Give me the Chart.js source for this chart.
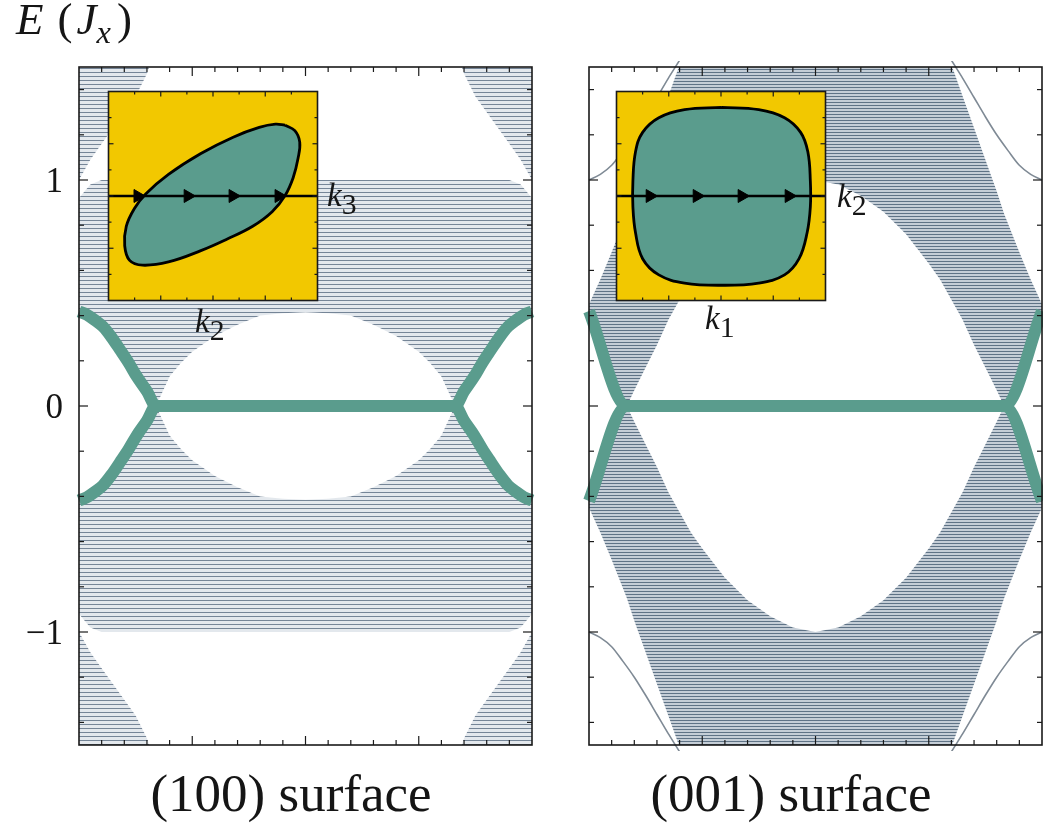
<!DOCTYPE html>
<html>
<head>
<meta charset="utf-8">
<script src="https://cdn.jsdelivr.net/npm/chart.js@4.4.0/dist/chart.umd.min.js"></script>
<style>
  body { margin:0; background:#fff; width:1043px; height:823px; position:relative; overflow:hidden; }
  canvas { position:absolute; }
  .lbl { position:absolute; white-space:nowrap; color:#151515; font-family:"Liberation Serif", "Times New Roman", "DejaVu Serif", serif; }
  .sub { font-size:0.9em; position:relative; top:0.28em; }
  .cap { width:500px; text-align:center; font-size:53px; line-height:53px; }
</style>
</head>
<body>
<canvas id="left" width="560" height="823" style="left:0;top:0"></canvas>
<canvas id="right" width="483" height="823" style="left:560px;top:0"></canvas>
<canvas id="insetL" width="226" height="226" style="left:100px;top:83px"></canvas>
<canvas id="insetR" width="226" height="226" style="left:608px;top:83px"></canvas>

<div class="lbl" style="left:16px;top:-3px;font-size:45px;line-height:45px"><i>E</i><span style="margin-left:14px">(</span><i style="margin-left:4px">J</i><span class="sub" style="font-style:italic;font-size:0.72em">x</span><span style="margin-left:6px">)</span></div>
<div class="lbl" style="left:327px;top:179px;font-size:33px;line-height:33px"><i>k</i><span class="sub">3</span></div>
<div class="lbl" style="left:195px;top:305px;font-size:33px;line-height:33px"><i>k</i><span class="sub">2</span></div>
<div class="lbl" style="left:837px;top:180px;font-size:33px;line-height:33px"><i>k</i><span class="sub">2</span></div>
<div class="lbl" style="left:705px;top:302px;font-size:33px;line-height:33px"><i>k</i><span class="sub">1</span></div>
<div class="lbl cap" style="left:41px;top:767px">(100) surface</div>
<div class="lbl cap" style="left:541px;top:767px">(001) surface</div>

<script>
// ---- axes ----
const kMajor = [-0.5, 0, 0.5];
const kMinor = [-0.9, -0.8, -0.7, -0.6, -0.4, -0.3, -0.2, -0.1, 0.1, 0.2, 0.3, 0.4, 0.6, 0.7, 0.8, 0.9];
const eMajor = [-1, 0, 1];
const eMinor = [-1.4, -1.2, -0.8, -0.6, -0.4, -0.2, 0.2, 0.4, 0.6, 0.8, 1.2, 1.4];
const eLabels = ['\u22121', '0', '1'];

// ---- (100) surface ----
const kMain = [-1, -0.95, -0.9, -0.85, -0.8, -0.75, -0.7, -0.66, -0.63, -0.6, -0.55, -0.5, -0.4, -0.3, -0.2, -0.1, 0,
               0.1, 0.2, 0.3, 0.4, 0.5, 0.55, 0.6, 0.63, 0.66, 0.7, 0.75, 0.8, 0.85, 0.9, 0.95, 1];
const gapUp = [0.42, 0.395, 0.36, 0.30, 0.22, 0.14, 0.065, 0, 0.065, 0.13, 0.19, 0.24, 0.31, 0.36, 0.40, 0.41, 0.415,
               0.41, 0.40, 0.36, 0.31, 0.24, 0.19, 0.13, 0.065, 0, 0.065, 0.14, 0.22, 0.30, 0.36, 0.395, 0.42];
const bandTop = [0.92, 0.98, 1, 1, 1, 1, 1, 1, 1, 1, 1, 1, 1, 1, 1, 1, 1,
                 1, 1, 1, 1, 1, 1, 1, 1, 1, 1, 1, 1, 1, 1, 0.98, 0.92];
const gapDown = [-0.42, -0.395, -0.36, -0.30, -0.22, -0.14, -0.065, 0, -0.065, -0.13, -0.19, -0.24, -0.31, -0.36, -0.40, -0.41, -0.415,
                 -0.41, -0.40, -0.36, -0.31, -0.24, -0.19, -0.13, -0.065, 0, -0.065, -0.14, -0.22, -0.30, -0.36, -0.395, -0.42];
const bandBottom = [-0.92, -0.98, -1, -1, -1, -1, -1, -1, -1, -1, -1, -1, -1, -1, -1, -1, -1,
                    -1, -1, -1, -1, -1, -1, -1, -1, -1, -1, -1, -1, -1, -1, -0.98, -0.92];
const kCornerL = [-1, -0.95, -0.9, -0.85, -0.8, -0.75, -0.7, -0.67];
const kCornerR = [0.67, 0.7, 0.75, 0.8, 0.85, 0.9, 0.95, 1];
const cornerUpL = [1.0, 1.09, 1.16, 1.23, 1.30, 1.37, 1.47, 1.56];
const cornerUpR = [1.56, 1.47, 1.37, 1.30, 1.23, 1.16, 1.09, 1.0];
const cornerDnL = [-1.0, -1.09, -1.16, -1.23, -1.30, -1.37, -1.47, -1.56];
const cornerDnR = [-1.56, -1.47, -1.37, -1.30, -1.23, -1.16, -1.09, -1.0];
const capUp = [1.6, 1.6, 1.6, 1.6, 1.6, 1.6, 1.6, 1.6];
const capDn = [-1.6, -1.6, -1.6, -1.6, -1.6, -1.6, -1.6, -1.6];
const kSurf100 = [-1, -0.965, -0.93, -0.894, -0.857, -0.819, -0.78, -0.744, -0.7, -0.66,
                  0.66, 0.7, 0.744, 0.78, 0.819, 0.857, 0.894, 0.93, 0.965, 1];
const surfUp100 = [0.418, 0.404, 0.38, 0.351, 0.305, 0.249, 0.19, 0.129, 0.065, 0,
                   0, 0.065, 0.129, 0.19, 0.249, 0.305, 0.351, 0.38, 0.404, 0.418];
const surfDn100 = [-0.418, -0.404, -0.38, -0.351, -0.305, -0.249, -0.19, -0.129, -0.065, 0,
                   0, -0.065, -0.129, -0.19, -0.249, -0.305, -0.351, -0.38, -0.404, -0.418];

// ---- (001) surface ----
const kR = [-1, -0.95, -0.9, -0.833, -0.8, -0.75, -0.7, -0.65, -0.6, -0.55, -0.5, -0.4, -0.3, -0.2, -0.1, 0,
            0.1, 0.2, 0.3, 0.4, 0.5, 0.55, 0.6, 0.65, 0.7, 0.75, 0.8, 0.833, 0.9, 0.95, 1];
const upLow = [0.42, 0.29, 0.17, 0, 0.07, 0.17, 0.27, 0.38, 0.47, 0.56, 0.63, 0.76, 0.86, 0.93, 0.98, 1.0,
               0.98, 0.93, 0.86, 0.76, 0.63, 0.56, 0.47, 0.38, 0.27, 0.17, 0.07, 0, 0.17, 0.29, 0.42];
const upHigh = [0.45, 0.56, 0.68, 0.85, 0.95, 1.09, 1.23, 1.37, 1.51, 1.65, 1.7, 1.7, 1.7, 1.7, 1.7, 1.7,
                1.7, 1.7, 1.7, 1.7, 1.7, 1.65, 1.51, 1.37, 1.23, 1.09, 0.95, 0.85, 0.68, 0.56, 0.45];
const dnHigh = [-0.42, -0.29, -0.17, 0, -0.07, -0.17, -0.27, -0.38, -0.47, -0.56, -0.63, -0.76, -0.86, -0.93, -0.98, -1.0,
                -0.98, -0.93, -0.86, -0.76, -0.63, -0.56, -0.47, -0.38, -0.27, -0.17, -0.07, 0, -0.17, -0.29, -0.42];
const dnLow = [-0.45, -0.56, -0.68, -0.85, -0.95, -1.09, -1.23, -1.37, -1.51, -1.65, -1.7, -1.7, -1.7, -1.7, -1.7, -1.7,
               -1.7, -1.7, -1.7, -1.7, -1.7, -1.65, -1.51, -1.37, -1.23, -1.09, -0.95, -0.85, -0.68, -0.56, -0.45];
const kThinL = [-1, -0.95, -0.9, -0.85, -0.8, -0.75, -0.7, -0.65, -0.6, -0.57];
const kThinR = [0.57, 0.6, 0.65, 0.7, 0.75, 0.8, 0.85, 0.9, 0.95, 1];
const thinUpL = [1.0, 1.025, 1.065, 1.13, 1.2, 1.28, 1.365, 1.45, 1.53, 1.58];
const thinUpR = [1.58, 1.53, 1.45, 1.365, 1.28, 1.2, 1.13, 1.065, 1.025, 1.0];
const thinDnL = [-1.0, -1.025, -1.065, -1.13, -1.2, -1.28, -1.365, -1.45, -1.53, -1.58];
const thinDnR = [-1.58, -1.53, -1.45, -1.365, -1.28, -1.2, -1.13, -1.065, -1.025, -1.0];
const kSurf001 = [-1, -0.833, 0.833, 1];
const surfUp001 = [0.42, 0, 0, 0.42];
const surfDn001 = [-0.42, 0, 0, -0.42];

// ---- insets: Fermi contours ----
const fsLeftU = [0.690, 0.783, 0.830, 0.814, 0.767, 0.690, 0.566, 0.380, 0.132, -0.116, -0.426, -0.674,
                 -0.798, -0.845, -0.830, -0.752, -0.644, -0.426, -0.116, 0.193, 0.442, 0.597, 0.690];
const fsLeftV = [0.677, 0.625, 0.516, 0.361, 0.175, 0.005, -0.151, -0.290, -0.414, -0.523, -0.631, -0.662,
                 -0.616, -0.476, -0.290, -0.119, 0.020, 0.207, 0.407, 0.563, 0.656, 0.687, 0.677];
const fsRightU = [0.006, 0.361, 0.608, 0.762, 0.831, 0.855, 0.855, 0.824, 0.747, 0.608, 0.361, 0.006,
                  -0.349, -0.595, -0.750, -0.818, -0.843, -0.843, -0.818, -0.750, -0.595, -0.349, 0.006];
const fsRightV = [0.848, 0.826, 0.749, 0.609, 0.423, 0.144, -0.104, -0.352, -0.600, -0.755, -0.833, -0.854,
                  -0.833, -0.755, -0.600, -0.352, -0.104, 0.144, 0.423, 0.609, 0.749, 0.826, 0.848];
const arrowsLeft = [-0.72, -0.24, 0.19, 0.63];
const arrowsRight = [-0.68, -0.23, 0.2, 0.65];
const insetMajor = [-0.5, 0, 0.5];
const insetMinor = [-0.75, -0.25, 0.25, 0.75];

const TEAL = '#5a9c8d';
const YELLOW = '#f2c800';
const SERIF = '"Liberation Serif", "Times New Roman", "DejaVu Serif", serif';

function pts(xs, ys) { return xs.map((x, i) => ({x: x, y: ys[i]})); }

function stripes(h, dark, light) {
  const c = document.createElement('canvas');
  c.width = 8; c.height = h;
  const g = c.getContext('2d');
  g.fillStyle = light; g.fillRect(0, 0, 8, h);
  g.fillStyle = dark; g.fillRect(0, 0, 8, 1);
  return g.createPattern(c, 'repeat');
}

// closed outline: upper edge left->right, lower edge right->left
function band(ks, lo, hi, fill) {
  const ring = pts(ks, hi).concat(pts(ks, lo).reverse());
  ring.push(ring[0]);
  return {data: ring, fill: 'shape', backgroundColor: fill, borderColor: 'rgba(0,0,0,0)', borderWidth: 1,
          pointRadius: 0, tension: 0, clip: 0};
}

function curve(ks, es, color, width) {
  return {data: pts(ks, es), fill: false, borderColor: color, borderWidth: width, pointRadius: 0,
          cubicInterpolationMode: 'monotone', clip: 6, borderCapStyle: 'butt'};
}

const framePlugin = {
  id: 'frame',
  afterDatasetsDraw(chart, args, opts) {
    const {ctx, chartArea: a, scales: {x, y}} = chart;
    const seg = (x0, y0, x1, y1) => { ctx.beginPath(); ctx.moveTo(x0, y0); ctx.lineTo(x1, y1); ctx.stroke(); };
    ctx.save();
    ctx.strokeStyle = '#1a1a1a';
    ctx.lineWidth = 1.2;
    (opts.xMinor || []).forEach(v => { const p = x.getPixelForValue(v); seg(p, a.bottom, p, a.bottom - opts.minorLen); seg(p, a.top, p, a.top + opts.minorLen); });
    (opts.xMajor || []).forEach(v => { const p = x.getPixelForValue(v); seg(p, a.bottom, p, a.bottom - opts.majorLen); seg(p, a.top, p, a.top + opts.majorLen); });
    (opts.yMinor || []).forEach(v => { const p = y.getPixelForValue(v); seg(a.left, p, a.left + opts.minorLen, p); seg(a.right, p, a.right - opts.minorLen, p); });
    (opts.yMajor || []).forEach(v => { const p = y.getPixelForValue(v); seg(a.left, p, a.left + opts.majorLen, p); seg(a.right, p, a.right - opts.majorLen, p); });
    ctx.lineWidth = opts.frameWidth;
    ctx.strokeRect(a.left, a.top, a.right - a.left, a.bottom - a.top);
    if (opts.labels) {
      ctx.fillStyle = '#151515';
      ctx.font = '35px ' + SERIF;
      ctx.textAlign = 'right';
      ctx.textBaseline = 'alphabetic';
      opts.yMajor.forEach((v, i) => ctx.fillText(opts.labels[i], a.left - 16, y.getPixelForValue(v) + 12));
    }
    ctx.restore();
  }
};

const insetBg = {
  id: 'insetBg',
  beforeDatasetsDraw(chart, args, opts) {
    if (!opts.color) return;
    const {ctx, chartArea: a} = chart;
    ctx.save();
    ctx.fillStyle = opts.color;
    ctx.fillRect(a.left, a.top, a.right - a.left, a.bottom - a.top);
    ctx.restore();
  }
};

function baseOptions(pad, xr, yr, frame, bg) {
  return {
    responsive: false, animation: false, events: [],
    layout: {padding: pad},
    scales: {
      x: {type: 'linear', min: xr[0], max: xr[1], display: false},
      y: {type: 'linear', min: yr[0], max: yr[1], display: false}
    },
    plugins: {legend: {display: false}, tooltip: {enabled: false}, frame: frame, insetBg: bg || {}}
  };
}

const axisTicks = {xMajor: kMajor, xMinor: kMinor, yMajor: eMajor, yMinor: eMinor, majorLen: 9, minorLen: 5, frameWidth: 1.6};

// left panel
const fillL = stripes(4, 'rgba(80,100,122,0.75)', 'rgba(175,188,202,0.35)');
const leftSets = [
  curve(kSurf100, surfUp100, TEAL, 12),
  curve(kSurf100, surfDn100, TEAL, 12),
  band(kMain, gapUp, bandTop, fillL),
  band(kMain, bandBottom, gapDown, fillL),
  band(kCornerL, cornerUpL, capUp, fillL),
  band(kCornerR, cornerUpR, capUp, fillL),
  band(kCornerL, capDn, cornerDnL, fillL),
  band(kCornerR, capDn, cornerDnR, fillL)
];
new Chart(document.getElementById('left'), {
  type: 'line',
  data: {datasets: leftSets},
  options: baseOptions({left: 79, top: 67, right: 28, bottom: 78}, [-1, 1], [-1.5, 1.5],
                       Object.assign({labels: eLabels}, axisTicks)),
  plugins: [framePlugin]
});

// right panel
const fillR = stripes(3, 'rgba(70,92,115,0.8)', 'rgba(140,158,176,0.5)');
const rightSets = [
  curve(kSurf001, surfUp001, TEAL, 12),
  curve(kSurf001, surfDn001, TEAL, 12),
  curve(kThinL, thinUpL, '#7f8a95', 1.6),
  curve(kThinR, thinUpR, '#7f8a95', 1.6),
  curve(kThinL, thinDnL, '#7f8a95', 1.6),
  curve(kThinR, thinDnR, '#7f8a95', 1.6),
  band(kR, upLow, upHigh, fillR),
  band(kR, dnLow, dnHigh, fillR)
];
new Chart(document.getElementById('right'), {
  type: 'line',
  data: {datasets: rightSets},
  options: baseOptions({left: 29, top: 67, right: 1, bottom: 78}, [-1, 1], [-1.5, 1.5], axisTicks),
  plugins: [framePlugin]
});

// insets
function inset(id, fu, fv, arrows) {
  const zeros = arrows.map(() => 0);
  new Chart(document.getElementById(id), {
    type: 'line',
    data: {datasets: [
      {data: pts(arrows, zeros), showLine: false, pointStyle: 'triangle', rotation: 90, pointRadius: 7.5,
       pointBackgroundColor: '#000', pointBorderColor: '#000', pointBorderWidth: 1},
      {data: pts([-1, 1], [0, 0]), borderColor: '#000', borderWidth: 2.4, pointRadius: 0, fill: false},
      {data: pts(fu, fv), borderColor: '#000', borderWidth: 2.8, backgroundColor: TEAL, fill: 'shape',
       tension: 0.4, pointRadius: 0}
    ]},
    options: baseOptions(5, [-1, 1], [-1, 1],
      {xMajor: insetMajor, xMinor: insetMinor, yMajor: insetMajor, yMinor: insetMinor, majorLen: 5, minorLen: 3, frameWidth: 1.6},
      {color: YELLOW}),
    plugins: [insetBg, framePlugin]
  });
}
inset('insetL', fsLeftU, fsLeftV, arrowsLeft);
inset('insetR', fsRightU, fsRightV, arrowsRight);
</script>
</body>
</html>
